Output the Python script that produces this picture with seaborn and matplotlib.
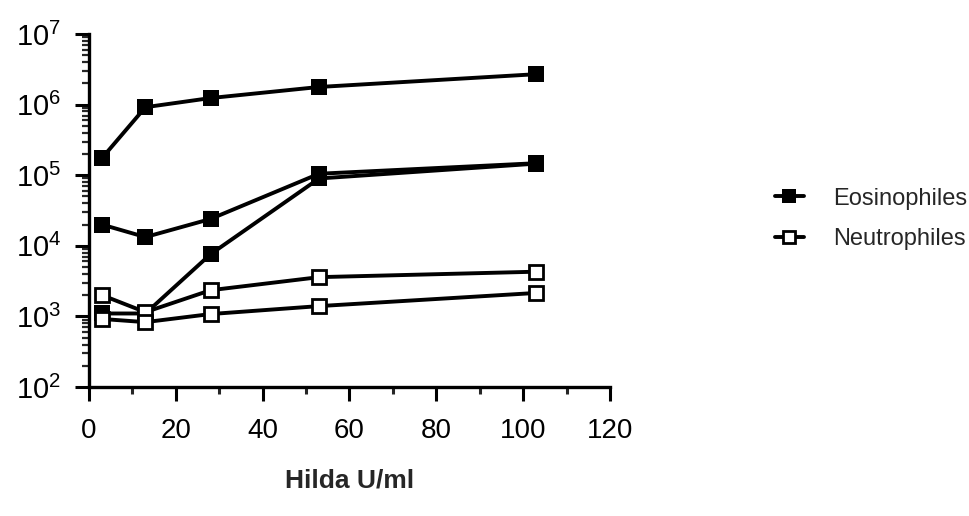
import numpy as np
import pandas as pd
import matplotlib
matplotlib.use('Agg')
import matplotlib.pyplot as plt
import seaborn as sns
from matplotlib.lines import Line2D
from matplotlib.ticker import LogLocator, NullFormatter, MultipleLocator

# Hilda concentration (U/ml)
hilda = [3, 13, 28, 53, 103]

# eosinophile counts, three experiments
eos_1 = [1.75e5, 9.2e5, 1.24e6, 1.78e6, 2.7e6]
eos_2 = [2.0e4, 1.33e4, 2.4e4, 1.05e5, 1.48e5]
eos_3 = [1.1e3, 1.1e3, 7.6e3, 9.0e4, 1.46e5]

# neutrophile counts, two experiments
neu_1 = [2.0e3, 1.15e3, 2.35e3, 3.6e3, 4.3e3]
neu_2 = [9.2e2, 8.3e2, 1.08e3, 1.4e3, 2.15e3]

y_ticks = [1e2, 1e3, 1e4, 1e5, 1e6, 1e7]
y_labels = ['$10^{2}$', '$10^{3}$', '$10^{4}$', '$10^{5}$', '$10^{6}$', '$10^{7}$']
x_ticks = [0, 20, 40, 60, 80, 100, 120]

sns.set_theme(style='ticks')
plt.rcParams['font.family'] = ['Liberation Sans', 'DejaVu Sans']
plt.rcParams['mathtext.fontset'] = 'custom'
plt.rcParams['mathtext.rm'] = 'Liberation Sans'
plt.rcParams['mathtext.it'] = 'Liberation Sans'

fig = plt.figure(figsize=(9.69, 5.16), dpi=100)
ax = fig.add_axes([0.0918, 0.25, 0.5377, 0.684])

for ys in [eos_1, eos_2, eos_3]:
    sns.lineplot(x=hilda, y=ys, ax=ax, color='black', linewidth=2.8,
                 marker='s', markersize=11.5, markerfacecolor='black',
                 markeredgecolor='black', markeredgewidth=0)

# neutrophiles drawn over, open squares hide the filled ones
for ys in [neu_1, neu_2]:
    sns.lineplot(x=hilda, y=ys, ax=ax, color='black', linewidth=2.8,
                 marker='s', markersize=10, markerfacecolor='white',
                 markeredgecolor='black', markeredgewidth=2)

ax.set_yscale('log')
ax.set_ylim(1e2, 1e7)
ax.set_xlim(0, 120)
ax.set_yticks(y_ticks)
ax.set_yticklabels(y_labels)
ax.yaxis.set_minor_locator(LogLocator(base=10, subs=np.arange(2, 10)))
ax.yaxis.set_minor_formatter(NullFormatter())
ax.set_xticks(x_ticks)
ax.set_xticklabels([str(t) for t in x_ticks])
ax.xaxis.set_minor_locator(MultipleLocator(10))

for side in ['top', 'right']:
    ax.spines[side].set_visible(False)
for side in ['left', 'bottom']:
    ax.spines[side].set_linewidth(2.4)
    ax.spines[side].set_color('black')

ax.tick_params(axis='y', which='major', length=10, width=2.2, pad=10,
               labelsize=21, colors='black')
ax.tick_params(axis='y', which='minor', length=5, width=1.6)
ax.tick_params(axis='x', which='major', length=10, width=2.2, pad=12,
               labelsize=20, colors='black')
ax.tick_params(axis='x', which='minor', length=5, width=2.2)

ax.set_xlabel('Hilda U/ml', fontsize=19, fontweight='bold')
ax.xaxis.set_label_coords(0.5, -0.23)
ax.xaxis.label.set_va('top')
ax.set_ylabel('')

handles = [
    Line2D([], [], color='black', linewidth=2.8, marker='s', markersize=10,
           markerfacecolor='black', markeredgewidth=0),
    Line2D([], [], color='black', linewidth=2.8, marker='s', markersize=8.5,
           markerfacecolor='white', markeredgecolor='black', markeredgewidth=2),
]
fig.legend(handles, ['Eosinophiles', 'Neutrophiles'], loc='center left',
           bbox_to_anchor=(0.8, 0.576), frameon=False, fontsize=17,
           handlelength=1.2, handletextpad=1.25, labelspacing=0.78,
           borderaxespad=0, borderpad=0)

fig.savefig('out.png', dpi=100)
